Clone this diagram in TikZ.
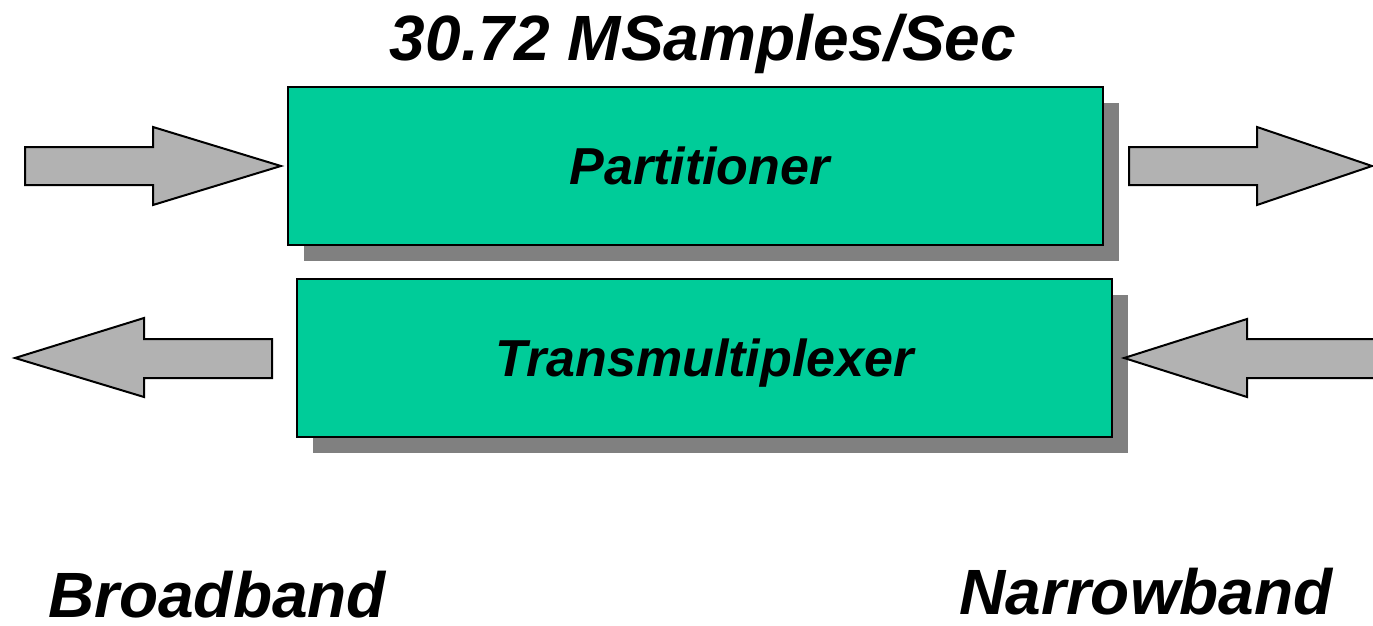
\documentclass[tikz,border=0pt]{standalone}
\usepackage{fontspec}
\setmainfont{Liberation Sans}
\usetikzlibrary{shadows}
\definecolor{boxgreen}{RGB}{0,204,153}
\definecolor{shadowgray}{RGB}{128,128,128}
\definecolor{arrowgray}{RGB}{178,178,178}
\begin{document}
\begin{tikzpicture}[x=1pt,y=-1pt,
  stage/.style={draw=black, line width=2.2pt, fill=boxgreen,
    minimum width=815pt, minimum height=158pt, inner sep=0pt,
    text height=37pt, text depth=0pt,
    font=\fontsize{52}{60}\selectfont\bfseries\itshape,
    drop shadow={shadow xshift=16pt, shadow yshift=-16pt,
      fill=shadowgray, draw=none, opacity=1}},
  bigtext/.style={anchor=base, inner sep=0pt,
    font=\fontsize{64}{72}\selectfont\bfseries\itshape},
  blockarrow/.style={draw=black, line width=2pt, fill=arrowgray, line join=miter}]
\useasboundingbox (0,0) rectangle (1373,626);

% processing stages
\node[stage] (part) at (695.5,166) {\hspace*{8pt}Partitioner};
\node[stage] (tmux) at (704.5,358) {Transmultiplexer};

% rate and band labels
\node[bigtext] (rate) at (703,60) {30.72 MSamples/Sec};
\node[bigtext] (broad) at (217,617) {Broadband};
\node[bigtext] (narrow) at (1146,614) {Narrowband};

% broadband input into the partitioner
\draw[blockarrow] (25,147) -- (153,147) -- (153,127) -- ([xshift=-6pt]part.west)
  -- (153,205) -- (153,185) -- (25,185) -- cycle;
% narrowband output of the partitioner
\draw[blockarrow] (1129,147) -- (1257,147) -- (1257,127) -- (1372,166)
  -- (1257,205) -- (1257,185) -- (1129,185) -- cycle;
% broadband output of the transmultiplexer
\draw[blockarrow] (272,339) -- (144,339) -- (144,318) -- (15,358)
  -- (144,397) -- (144,378) -- (272,378) -- cycle;
% narrowband input into the transmultiplexer
\draw[blockarrow] (1380,339) -- (1247,339) -- (1247,319) -- ([xshift=11pt]tmux.east)
  -- (1247,397) -- (1247,378) -- (1380,378) -- cycle;
\end{tikzpicture}
\end{document}
